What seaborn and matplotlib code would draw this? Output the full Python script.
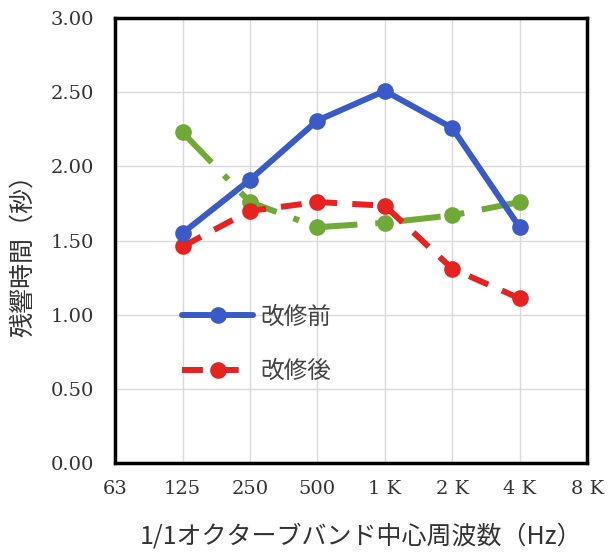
import matplotlib
matplotlib.use("Agg")
import matplotlib.pyplot as plt
import seaborn as sns
import pandas as pd

freq_labels = ["63", "125", "250", "500", "1 K", "2 K", "4 K", "8 K"]
data_freqs = ["125", "250", "500", "1 K", "2 K", "4 K"]
before = [1.55, 1.91, 2.31, 2.51, 2.26, 1.59]
after = [1.46, 1.70, 1.76, 1.735, 1.31, 1.11]
other = [2.23, 1.76, 1.59, 1.62, 1.67, 1.76]
yticks = [0.0, 0.5, 1.0, 1.5, 2.0, 2.5, 3.0]

sns.set_theme(style="white")
plt.rcParams["font.family"] = ["DejaVu Serif", "Noto Sans CJK JP", "DejaVu Sans"]

fig = plt.figure(figsize=(6.09, 5.53), dpi=100)
ax = fig.add_axes([0.189, 0.163, 0.775, 0.804])

xpos = [freq_labels.index(f) for f in data_freqs]
df = pd.DataFrame({"x": xpos * 3,
                   "y": before + after + other,
                   "s": ["改修前"] * 6 + ["改修後"] * 6 + ["other"] * 6})

lw = 4.3
ms = 12
sns.lineplot(data=df[df.s == "other"], x="x", y="y", ax=ax, color="#6eaa35",
             marker="o", markersize=ms, markeredgewidth=0, linewidth=lw,
             dashes=False, linestyle=(0, (7, 3, 1, 3)), label="_nolegend_", zorder=2)
sns.lineplot(data=df[df.s == "改修後"], x="x", y="y", ax=ax, color="#e52421",
             marker="o", markersize=ms, markeredgewidth=0, linewidth=lw,
             dashes=False, linestyle=(0, (3.5, 2.5)), label="改修後", zorder=3)
sns.lineplot(data=df[df.s == "改修前"], x="x", y="y", ax=ax, color="#3a5bc7",
             marker="o", markersize=ms, markeredgewidth=0, linewidth=lw,
             dashes=False, label="改修前", zorder=4)

ax.set_xlim(0, len(freq_labels) - 1)
ax.set_ylim(0, 3.0)
ax.set_xticks(range(len(freq_labels)))
ax.set_xticklabels(freq_labels)
ax.set_yticks(yticks)
ax.set_yticklabels([f"{v:.2f}" for v in yticks])
ax.tick_params(axis="both", labelsize=14, colors="#333333", length=0)
ax.tick_params(axis="x", pad=12)
ax.tick_params(axis="y", pad=15)
ax.grid(True, color="#d9d9d9", linewidth=1)
for sp in ax.spines.values():
    sp.set_color("black")
    sp.set_linewidth(2.5)

cjk = ["Noto Sans CJK JP", "DejaVu Sans"]
ax.set_xlabel("1/1オクターブバンド中心周波数（Hz）", fontsize=18, color="#333333",
              family=cjk, va="center")
ax.xaxis.set_label_coords(0.521, -0.166)
ax.set_ylabel("残響時間（秒）", fontsize=18, color="#333333", family=cjk, va="center")
ax.yaxis.set_label_coords(-0.195, 0.479)

h, l = ax.get_legend_handles_labels()
order = [l.index("改修前"), l.index("改修後")]
leg = ax.legend([h[i] for i in order], [l[i] for i in order],
                loc="upper left", bbox_to_anchor=(0.097, 0.402), frameon=False,
                handlelength=3.0, handletextpad=0.3, labelspacing=1.35,
                prop={"family": ["Noto Sans CJK JP"], "size": 17})
for t in leg.get_texts():
    t.set_color("#444444")

fig.savefig("out.png", dpi=100)
